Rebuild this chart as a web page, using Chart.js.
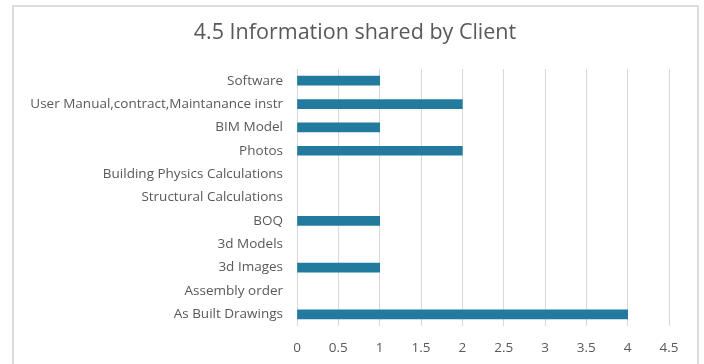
<!DOCTYPE html>
<html>
<head>
<meta charset="utf-8">
<script src="https://cdn.jsdelivr.net/npm/chart.js@4/dist/chart.umd.min.js"></script>
<style>
  html, body { margin: 0; padding: 0; background: #fff; }
  #wrap { width: 704px; height: 364px; }
</style>
</head>
<body>
<div id="wrap"><canvas id="infoChart" width="704" height="364"></canvas></div>
<script>
// DATA

const categories = [
    "Software",
    "User Manual,contract,Maintanance instr",
    "BIM Model",
    "Photos",
    "Building Physics Calculations",
    "Structural Calculations",
    "BOQ",
    "3d Models",
    "3d Images",
    "Assembly order",
    "As Built Drawings"
];
const counts = [1, 2, 1, 2, 0, 0, 1, 0, 1, 0, 4];
const xTicks = [0, 0.5, 1, 1.5, 2, 2.5, 3, 3.5, 4, 4.5];
const chartTitle = "4.5 Information shared by Client";

const FONT = "'Open Sans', sans-serif";
const TEXT = "#595959";
const BAR = "#237a9f";

// chart frame + title centred on the frame (not on the plot)
const framePlugin = {
    id: "frame",
    beforeDraw(chart) {
        const c = chart.ctx;
        c.save();
        c.strokeStyle = "#dcdcdc";
        c.lineWidth = 2;
        c.strokeRect(13, 6, 685, 380);
        c.fillStyle = TEXT;
        c.font = "21.5px " + FONT;
        c.textAlign = "center";
        c.textBaseline = "middle";
        c.fillText(chartTitle, 355, 33);
        c.restore();
    }
};

const ctx = document.getElementById("infoChart").getContext("2d");
new Chart(ctx, {
    type: "bar",
    data: {
        labels: categories,
        datasets: [{
            data: counts,
            backgroundColor: c => (c.raw ? BAR : "rgba(0,0,0,0)"),
            barThickness: 9
        }]
    },
    options: {
        indexAxis: "y",
        responsive: false,
        animation: false,
        layout: { padding: { left: 13, right: 35, top: 69, bottom: 0 } },
        plugins: {
            legend: { display: false },
            tooltip: { enabled: false },
            title: { display: false }
        },
        scales: {
            x: {
                min: 0,
                max: 4.5,
                afterBuildTicks: axis => { axis.ticks = xTicks.map(v => ({ value: v })); },
                afterFit: axis => { axis.height = 38; },
                grid: { color: "#d9d9d9", lineWidth: 1, drawTicks: false },
                border: { display: false },
                ticks: {
                    color: TEXT,
                    font: { family: FONT, size: 13.5 },
                    padding: 14,
                    callback: v => String(v)
                }
            },
            y: {
                grid: { display: false },
                border: { display: false },
                afterFit: axis => { axis.width = 284; },
                ticks: { color: TEXT, font: { family: FONT, size: 13.5 }, padding: 6 }
            }
        }
    },
    plugins: [framePlugin]
});
</script>
</body>
</html>
